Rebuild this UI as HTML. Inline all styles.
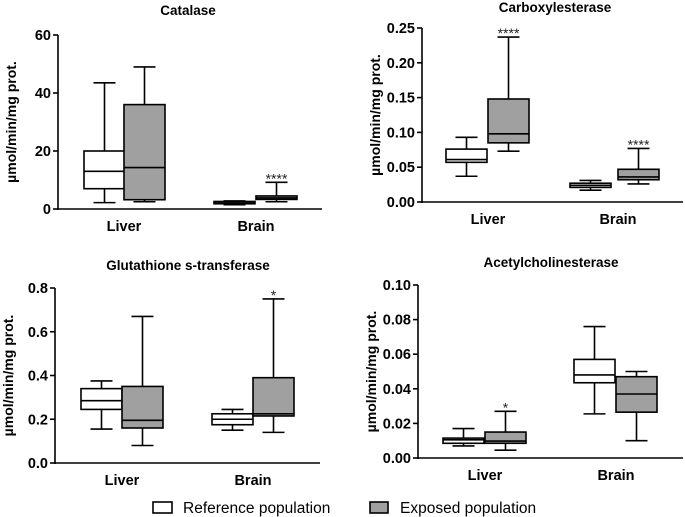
<!DOCTYPE html>
<html><head><meta charset="utf-8"><style>
body{margin:0;background:#fff;}
svg{display:block;font-family:"Liberation Sans",Arial,sans-serif;}
</style></head><body>
<svg id="c" width="685" height="517" viewBox="0 0 685 517"></svg>
<script>
// data: [whiskerLow, q1, median, q3, whiskerHigh] per group: Liver-ref, Liver-exp, Brain-ref, Brain-exp
const categories = ["Liver", "Brain"];
const catalaseValues = [[2.2,7,13,20,43.5],[2.5,3.2,14.3,36,49],[1.5,1.8,2.1,2.6,2.8],[2.5,3.3,3.8,4.5,9.2]];
const carboxylValues = [[0.037,0.057,0.061,0.076,0.093],[0.073,0.085,0.098,0.148,0.237],[0.017,0.021,0.024,0.027,0.031],[0.026,0.032,0.036,0.047,0.077]];
const glutathioneValues = [[0.155,0.245,0.285,0.34,0.375],[0.08,0.16,0.195,0.35,0.67],[0.15,0.175,0.2,0.225,0.245],[0.14,0.215,0.225,0.39,0.75]];
const acheValues = [[0.007,0.0085,0.0105,0.0115,0.017],[0.0045,0.0085,0.0098,0.015,0.027],[0.0255,0.0435,0.048,0.057,0.076],[0.010,0.0265,0.037,0.047,0.050]];
const catalaseTicks = ["0","20","40","60"];
const carboxylTicks = ["0.00","0.05","0.10","0.15","0.20","0.25"];
const glutathioneTicks = ["0.0","0.2","0.4","0.6","0.8"];
const acheTicks = ["0.00","0.02","0.04","0.06","0.08","0.10"];
const catalaseStars = ["","","","****"];
const carboxylStars = ["","****","","****"];
const glutathioneStars = ["","","","*"];
const acheStars = ["","*","",""];

const panels = [
 {name:"catalase",title:"Catalase",vals:catalaseValues,ticks:catalaseTicks,stars:catalaseStars,max:60,ax:58,top:35,bot:209,right:322,boxes:[84,124,214,256],tx:188,ty:15},
 {name:"carboxylesterase",title:"Carboxylesterase",vals:carboxylValues,ticks:carboxylTicks,stars:carboxylStars,max:0.25,ax:422,top:28,bot:202,right:683,boxes:[446,488,570,618],tx:555,ty:12},
 {name:"glutathione",title:"Glutathione s-transferase",vals:glutathioneValues,ticks:glutathioneTicks,stars:glutathioneStars,max:0.8,ax:55,top:288,bot:463,right:320,boxes:[81,122,212,253],tx:188,ty:270},
 {name:"acetylcholinesterase",title:"Acetylcholinesterase",vals:acheValues,ticks:acheTicks,stars:acheStars,max:0.10,ax:418,top:285,bot:458,right:683,boxes:[443,485,574,616],tx:551,ty:267}
];
const NS="http://www.w3.org/2000/svg";
const svg=document.getElementById('c');
function mk(tag,attrs,parent){const e=document.createElementNS(NS,tag);for(const k in attrs)e.setAttribute(k,attrs[k]);(parent||svg).appendChild(e);return e;}
const BW=41;
panels.forEach(p=>{
  const g=mk('g',{});
  
  
  const y=v=>p.bot-(v/p.max)*(p.bot-p.top);
  const t=mk('text',{x:p.tx,y:p.ty,'text-anchor':'middle','font-size':13.5,'font-weight':'bold'},g);t.textContent=p.title;
  
  
  const yt=mk('text',{transform:`translate(${p.ax-42},${(p.top+p.bot)/2}) rotate(-90)`,'text-anchor':'middle','font-size':14,'font-weight':'bold'},g);
  yt.textContent="µmol/min/mg prot.";
  
  
  mk('line',{x1:p.ax,y1:p.top,x2:p.ax,y2:p.bot+1,stroke:'#000','stroke-width':1.6},g);
  mk('line',{x1:p.ax-1,y1:p.bot,x2:p.right,y2:p.bot,stroke:'#000','stroke-width':1.6},g);
  p.ticks.forEach((lab,i)=>{
    const v=p.max*i/(p.ticks.length-1), yy=y(v);
    mk('line',{x1:p.ax-5,y1:yy,x2:p.ax,y2:yy,stroke:'#000','stroke-width':1.6},g);
    const tl=mk('text',{x:p.ax-7,y:yy+5,'text-anchor':'end','font-size':14.5,'font-weight':'bold'},g);tl.textContent=lab;
    
    
  });
  categories.forEach((c,ci)=>{
    const cl=mk('text',{x:p.boxes[ci*2+1],y:p.bot+22,'text-anchor':'middle','font-size':14.5,'font-weight':'bold'},g);cl.textContent=c;
    
    
  });
  p.vals.forEach((d,i)=>{
    const x0=p.boxes[i], cx=x0+BW/2, cw=11;
    const bg=mk('g',{stroke:'#000','stroke-width':1.6},g);
    
    
    mk('line',{x1:cx,y1:y(d[0]),x2:cx,y2:y(d[4])},bg);
    mk('line',{x1:cx-cw,y1:y(d[0]),x2:cx+cw,y2:y(d[0])},bg);
    mk('line',{x1:cx-cw,y1:y(d[4]),x2:cx+cw,y2:y(d[4])},bg);
    mk('rect',{x:x0,y:y(d[3]),width:BW,height:Math.max(0.5,y(d[1])-y(d[3])),fill:i%2?'#a0a0a0':'#fff'},bg);
    mk('line',{x1:x0,y1:y(d[2]),x2:x0+BW,y2:y(d[2])},bg);
    if(p.stars[i]){
      const s=mk('text',{x:cx,y:y(d[4])+1,'text-anchor':'middle','font-size':14,fill:'#222'},g);s.textContent=p.stars[i];
      
      
    }
  });
});
const lg=mk('g',{});


const l1=mk('g',{},lg);


mk('rect',{x:153,y:502,width:19,height:11,fill:'#fff',stroke:'#000','stroke-width':1.6},l1);
const lt1=mk('text',{x:183,y:513,'font-size':15.5},l1);lt1.textContent="Reference population";
const l2=mk('g',{},lg);


mk('rect',{x:370,y:502,width:18,height:11,fill:'#a0a0a0',stroke:'#000','stroke-width':1.6},l2);
const lt2=mk('text',{x:400,y:513,'font-size':15.5},l2);lt2.textContent="Exposed population";
</script>
</body></html>
